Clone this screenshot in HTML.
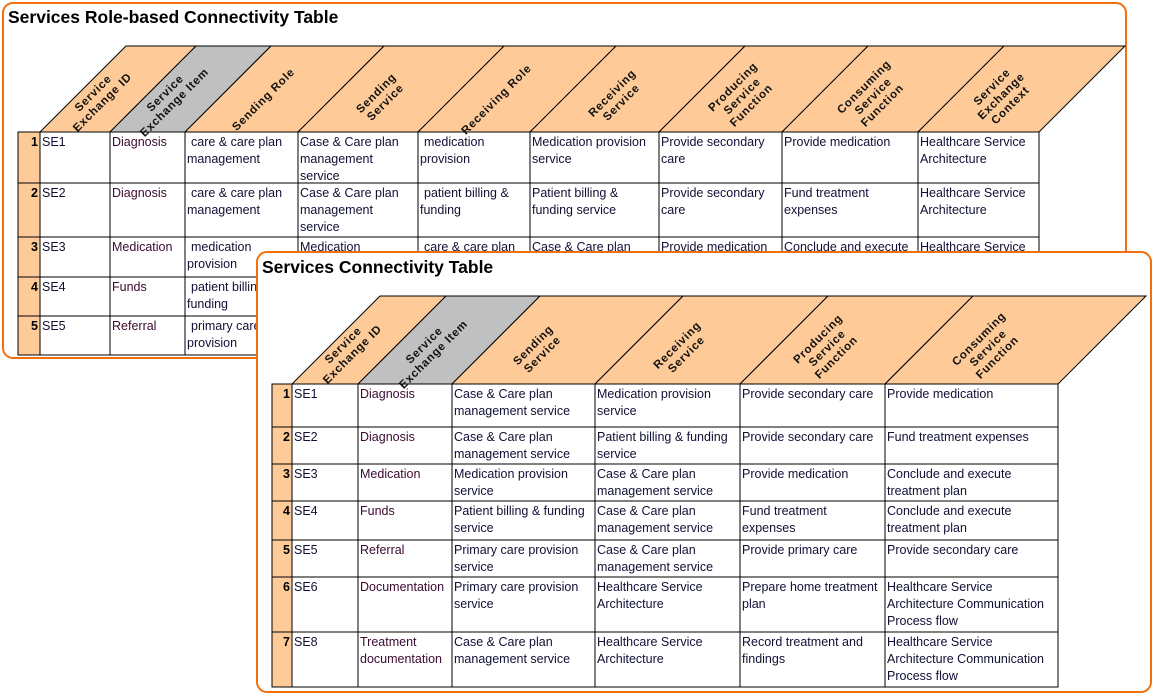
<!DOCTYPE html>
<html><head><meta charset="utf-8"><style>
html,body{margin:0;padding:0;background:#fff;}
svg{display:block;font-family:"Liberation Sans",Arial,sans-serif;}
.t{font-size:12.5px;fill:#101035;}
.i{font-size:12.5px;fill:#3a0a30;}
.n{font-size:12.5px;font-weight:bold;fill:#000;text-anchor:end;}
.h{font-size:11.5px;font-weight:bold;fill:#111;text-anchor:middle;letter-spacing:0.8px;}
.ttl{font-size:17.5px;font-weight:bold;fill:#000;}
</style></head><body>
<svg width="1153" height="697" viewBox="0 0 1153 697" xmlns="http://www.w3.org/2000/svg">
<rect x="3" y="3" width="1123" height="355" rx="10" fill="#fff" stroke="#f07010" stroke-width="2"/>
<text class="ttl" x="8" y="23">Services Role-based Connectivity Table</text>
<g stroke="#000" stroke-width="1">
<polygon points="40,132 126,46 196,46 110,132" fill="#fecb98"/>
<polygon points="110,132 196,46 271,46 185,132" fill="#c0c0c0"/>
<polygon points="185,132 271,46 384,46 298,132" fill="#fecb98"/>
<polygon points="298,132 384,46 504,46 418,132" fill="#fecb98"/>
<polygon points="418,132 504,46 616,46 530,132" fill="#fecb98"/>
<polygon points="530,132 616,46 745,46 659,132" fill="#fecb98"/>
<polygon points="659,132 745,46 868,46 782,132" fill="#fecb98"/>
<polygon points="782,132 868,46 1004,46 918,132" fill="#fecb98"/>
<polygon points="918,132 1004,46 1125,46 1039,132" fill="#fecb98"/>
<rect x="18" y="132" width="22" height="223" fill="#fecb98"/>
<rect x="40" y="132" width="999" height="223" fill="#fff"/>
<line x1="18" y1="183" x2="1039" y2="183"/><line x1="18" y1="237" x2="1039" y2="237"/><line x1="18" y1="277" x2="1039" y2="277"/><line x1="18" y1="316" x2="1039" y2="316"/>
<line x1="110" y1="132" x2="110" y2="355"/><line x1="185" y1="132" x2="185" y2="355"/><line x1="298" y1="132" x2="298" y2="355"/><line x1="418" y1="132" x2="418" y2="355"/><line x1="530" y1="132" x2="530" y2="355"/><line x1="659" y1="132" x2="659" y2="355"/><line x1="782" y1="132" x2="782" y2="355"/><line x1="918" y1="132" x2="918" y2="355"/>
</g>
<g class="h">
<text transform="translate(100,100) rotate(-45)"><tspan x="0" dy="-6">Service</tspan><tspan x="0" dy="13">Exchange ID</tspan></text>
<text transform="translate(172,100) rotate(-45)"><tspan x="0" dy="-6">Service</tspan><tspan x="0" dy="13">Exchange Item</tspan></text>
<text transform="translate(266,102) rotate(-45)"><tspan x="0" dy="0">Sending Role</tspan></text>
<text transform="translate(383,100) rotate(-45)"><tspan x="0" dy="-6">Sending</tspan><tspan x="0" dy="13">Service</tspan></text>
<text transform="translate(499,102) rotate(-45)"><tspan x="0" dy="0">Receiving Role</tspan></text>
<text transform="translate(619,100) rotate(-45)"><tspan x="0" dy="-6">Receiving</tspan><tspan x="0" dy="13">Service</tspan></text>
<text transform="translate(744,98) rotate(-45)"><tspan x="0" dy="-12">Producing</tspan><tspan x="0" dy="13">Service</tspan><tspan x="0" dy="13">Function</tspan></text>
<text transform="translate(875,98) rotate(-45)"><tspan x="0" dy="-12">Consuming</tspan><tspan x="0" dy="13">Service</tspan><tspan x="0" dy="13">Function</tspan></text>
<text transform="translate(1003,98) rotate(-45)"><tspan x="0" dy="-12">Service</tspan><tspan x="0" dy="13">Exchange</tspan><tspan x="0" dy="13">Context</tspan></text>
</g>
<g>
<text class="n" x="38" y="146">1</text><text class="n" x="38" y="197">2</text><text class="n" x="38" y="251">3</text><text class="n" x="38" y="291">4</text><text class="n" x="38" y="330">5</text>
<text class="t" x="42" y="146">SE1</text><text class="t" x="42" y="197">SE2</text><text class="t" x="42" y="251">SE3</text><text class="t" x="42" y="291">SE4</text><text class="t" x="42" y="330">SE5</text>
<text class="i" x="112" y="146">Diagnosis</text><text class="i" x="112" y="197">Diagnosis</text><text class="i" x="112" y="251">Medication</text><text class="i" x="112" y="291">Funds</text><text class="i" x="112" y="330">Referral</text>
<text class="t" y="146"><tspan x="191">care &amp; care plan</tspan><tspan x="187" dy="17">management</tspan></text>
<text class="t" y="197"><tspan x="191">care &amp; care plan</tspan><tspan x="187" dy="17">management</tspan></text>
<text class="t" y="251"><tspan x="191">medication</tspan><tspan x="187" dy="17">provision</tspan></text>
<text class="t" y="291"><tspan x="191">patient billing &amp;</tspan><tspan x="187" dy="17">funding</tspan></text>
<text class="t" y="330"><tspan x="191">primary care</tspan><tspan x="187" dy="17">provision</tspan></text>
<text class="t" y="146"><tspan x="300">Case &amp; Care plan</tspan><tspan x="300" dy="17">management</tspan><tspan x="300" dy="17">service</tspan></text>
<text class="t" y="197"><tspan x="300">Case &amp; Care plan</tspan><tspan x="300" dy="17">management</tspan><tspan x="300" dy="17">service</tspan></text>
<text class="t" x="300" y="251">Medication</text>
<text class="t" y="146"><tspan x="424">medication</tspan><tspan x="420" dy="17">provision</tspan></text>
<text class="t" y="197"><tspan x="424">patient billing &amp;</tspan><tspan x="420" dy="17">funding</tspan></text>
<text class="t" x="424" y="251">care &amp; care plan</text>
<text class="t" y="146"><tspan x="532">Medication provision</tspan><tspan x="532" dy="17">service</tspan></text>
<text class="t" y="197"><tspan x="532">Patient billing &amp;</tspan><tspan x="532" dy="17">funding service</tspan></text>
<text class="t" x="532" y="251">Case &amp; Care plan</text>
<text class="t" y="146"><tspan x="661">Provide secondary</tspan><tspan x="661" dy="17">care</tspan></text>
<text class="t" y="197"><tspan x="661">Provide secondary</tspan><tspan x="661" dy="17">care</tspan></text>
<text class="t" x="661" y="251">Provide medication</text>
<text class="t" x="784" y="146">Provide medication</text>
<text class="t" y="197"><tspan x="784">Fund treatment</tspan><tspan x="784" dy="17">expenses</tspan></text>
<text class="t" x="784" y="251">Conclude and execute</text>
<text class="t" y="146"><tspan x="920">Healthcare Service</tspan><tspan x="920" dy="17">Architecture</tspan></text>
<text class="t" y="197"><tspan x="920">Healthcare Service</tspan><tspan x="920" dy="17">Architecture</tspan></text>
<text class="t" x="920" y="251">Healthcare Service</text>
</g>

<rect x="257" y="252" width="894" height="440" rx="10" fill="#fff" stroke="#f07010" stroke-width="2"/>
<text class="ttl" x="262" y="273">Services Connectivity Table</text>
<g stroke="#000" stroke-width="1">
<polygon points="292,384 380,296 446,296 358,384" fill="#fecb98"/>
<polygon points="358,384 446,296 540,296 452,384" fill="#c0c0c0"/>
<polygon points="452,384 540,296 683,296 595,384" fill="#fecb98"/>
<polygon points="595,384 683,296 828,296 740,384" fill="#fecb98"/>
<polygon points="740,384 828,296 973,296 885,384" fill="#fecb98"/>
<polygon points="885,384 973,296 1146,296 1058,384" fill="#fecb98"/>
<rect x="272" y="384" width="20" height="303" fill="#fecb98"/>
<rect x="292" y="384" width="766" height="303" fill="#fff"/>
<line x1="272" y1="427" x2="1058" y2="427"/><line x1="272" y1="464" x2="1058" y2="464"/><line x1="272" y1="501" x2="1058" y2="501"/><line x1="272" y1="540" x2="1058" y2="540"/><line x1="272" y1="577" x2="1058" y2="577"/><line x1="272" y1="632" x2="1058" y2="632"/>
<line x1="358" y1="384" x2="358" y2="687"/><line x1="452" y1="384" x2="452" y2="687"/><line x1="595" y1="384" x2="595" y2="687"/><line x1="740" y1="384" x2="740" y2="687"/><line x1="885" y1="384" x2="885" y2="687"/>
</g>
<g class="h">
<text transform="translate(350,352) rotate(-45)"><tspan x="0" dy="-6">Service</tspan><tspan x="0" dy="13">Exchange ID</tspan></text>
<text transform="translate(431,352) rotate(-45)"><tspan x="0" dy="-6">Service</tspan><tspan x="0" dy="13">Exchange Item</tspan></text>
<text transform="translate(540,352) rotate(-45)"><tspan x="0" dy="-6">Sending</tspan><tspan x="0" dy="13">Service</tspan></text>
<text transform="translate(684,352) rotate(-45)"><tspan x="0" dy="-6">Receiving</tspan><tspan x="0" dy="13">Service</tspan></text>
<text transform="translate(829,350) rotate(-45)"><tspan x="0" dy="-12">Producing</tspan><tspan x="0" dy="13">Service</tspan><tspan x="0" dy="13">Function</tspan></text>
<text transform="translate(990,350) rotate(-45)"><tspan x="0" dy="-12">Consuming</tspan><tspan x="0" dy="13">Service</tspan><tspan x="0" dy="13">Function</tspan></text>
</g>
<g>
<text class="n" x="290" y="398">1</text><text class="n" x="290" y="441">2</text><text class="n" x="290" y="478">3</text><text class="n" x="290" y="515">4</text><text class="n" x="290" y="554">5</text><text class="n" x="290" y="591">6</text><text class="n" x="290" y="646">7</text>
<text class="t" x="294" y="398">SE1</text><text class="t" x="294" y="441">SE2</text><text class="t" x="294" y="478">SE3</text><text class="t" x="294" y="515">SE4</text><text class="t" x="294" y="554">SE5</text><text class="t" x="294" y="591">SE6</text><text class="t" x="294" y="646">SE8</text>
<text class="i" x="360" y="398">Diagnosis</text><text class="i" x="360" y="441">Diagnosis</text><text class="i" x="360" y="478">Medication</text><text class="i" x="360" y="515">Funds</text><text class="i" x="360" y="554">Referral</text><text class="i" x="360" y="591">Documentation</text>
<text class="i" y="646"><tspan x="360">Treatment</tspan><tspan x="360" dy="17">documentation</tspan></text>

<text class="t" y="398"><tspan x="454">Case &amp; Care plan</tspan><tspan x="454" dy="17">management service</tspan></text>
<text class="t" y="441"><tspan x="454">Case &amp; Care plan</tspan><tspan x="454" dy="17">management service</tspan></text>
<text class="t" y="478"><tspan x="454">Medication provision</tspan><tspan x="454" dy="17">service</tspan></text>
<text class="t" y="515"><tspan x="454">Patient billing &amp; funding</tspan><tspan x="454" dy="17">service</tspan></text>
<text class="t" y="554"><tspan x="454">Primary care provision</tspan><tspan x="454" dy="17">service</tspan></text>
<text class="t" y="591"><tspan x="454">Primary care provision</tspan><tspan x="454" dy="17">service</tspan></text>
<text class="t" y="646"><tspan x="454">Case &amp; Care plan</tspan><tspan x="454" dy="17">management service</tspan></text>

<text class="t" y="398"><tspan x="597">Medication provision</tspan><tspan x="597" dy="17">service</tspan></text>
<text class="t" y="441"><tspan x="597">Patient billing &amp; funding</tspan><tspan x="597" dy="17">service</tspan></text>
<text class="t" y="478"><tspan x="597">Case &amp; Care plan</tspan><tspan x="597" dy="17">management service</tspan></text>
<text class="t" y="515"><tspan x="597">Case &amp; Care plan</tspan><tspan x="597" dy="17">management service</tspan></text>
<text class="t" y="554"><tspan x="597">Case &amp; Care plan</tspan><tspan x="597" dy="17">management service</tspan></text>
<text class="t" y="591"><tspan x="597">Healthcare Service</tspan><tspan x="597" dy="17">Architecture</tspan></text>
<text class="t" y="646"><tspan x="597">Healthcare Service</tspan><tspan x="597" dy="17">Architecture</tspan></text>

<text class="t" x="742" y="398">Provide secondary care</text>
<text class="t" x="742" y="441">Provide secondary care</text>
<text class="t" x="742" y="478">Provide medication</text>
<text class="t" y="515"><tspan x="742">Fund treatment</tspan><tspan x="742" dy="17">expenses</tspan></text>
<text class="t" x="742" y="554">Provide primary care</text>
<text class="t" y="591"><tspan x="742">Prepare home treatment</tspan><tspan x="742" dy="17">plan</tspan></text>
<text class="t" y="646"><tspan x="742">Record treatment and</tspan><tspan x="742" dy="17">findings</tspan></text>

<text class="t" x="887" y="398">Provide medication</text>
<text class="t" x="887" y="441">Fund treatment expenses</text>
<text class="t" y="478"><tspan x="887">Conclude and execute</tspan><tspan x="887" dy="17">treatment plan</tspan></text>
<text class="t" y="515"><tspan x="887">Conclude and execute</tspan><tspan x="887" dy="17">treatment plan</tspan></text>
<text class="t" x="887" y="554">Provide secondary care</text>
<text class="t" y="591"><tspan x="887">Healthcare Service</tspan><tspan x="887" dy="17">Architecture Communication</tspan><tspan x="887" dy="17">Process flow</tspan></text>
<text class="t" y="646"><tspan x="887">Healthcare Service</tspan><tspan x="887" dy="17">Architecture Communication</tspan><tspan x="887" dy="17">Process flow</tspan></text>
</g>
</svg>
</body></html>
